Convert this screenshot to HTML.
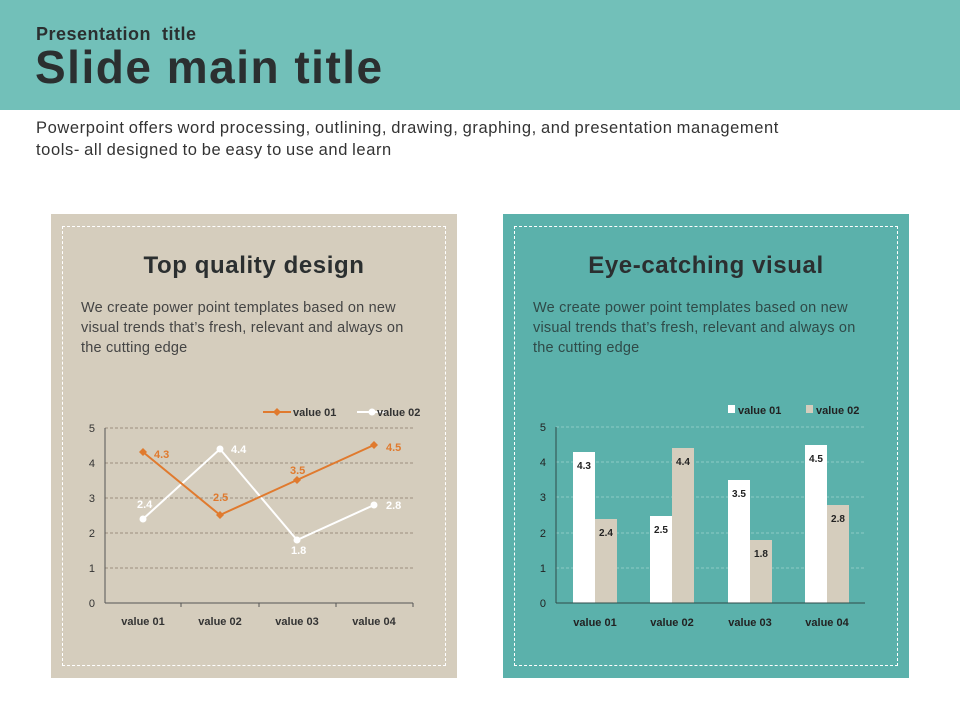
<!DOCTYPE html>
<html><head><style>
body{margin:0;width:960px;height:720px;background:#fff;position:relative;overflow:hidden;font-family:"Liberation Sans",sans-serif;}
.hdr{position:absolute;left:0;top:0;width:960px;height:110px;background:#72c0b9;}
.t1{position:absolute;left:36px;top:24px;font-size:18px;font-weight:bold;color:#2b2f30;letter-spacing:0.5px;}
.t2{position:absolute;left:35px;top:40px;font-size:46px;font-weight:bold;color:#2b2f30;letter-spacing:1.5px;}
.desc{position:absolute;left:36px;top:117px;font-size:16.5px;line-height:22px;color:#333;letter-spacing:0.6px;word-spacing:-1px;}
.panel{position:absolute;top:214px;width:406px;height:464px;}
.dash{position:absolute;left:11px;top:12px;right:11px;bottom:12px;border:1px dashed #fff;}
.ph{position:absolute;left:0;width:100%;top:38px;text-align:center;font-size:24px;font-weight:bold;color:#2b2f30;letter-spacing:0.6px;}
.pt{position:absolute;left:30px;top:84px;font-size:14.5px;line-height:20px;color:#444;width:345px;letter-spacing:0.2px;}
svg{position:absolute;left:0;top:0}
</style></head><body>
<div class="hdr"></div>
<div class="t1">Presentation &nbsp;title</div>
<div class="t2">Slide main title</div>
<div class="desc">Powerpoint offers word processing, outlining, drawing, graphing, and presentation management<br>tools- all designed to be easy to use and learn</div>
<div class="panel" style="left:51px;background:#d5cdbd"><div class="dash"></div><div class="ph">Top quality design</div><div class="pt">We create power point templates based on new<br>visual trends that’s fresh, relevant and always on<br>the cutting edge</div></div>
<div class="panel" style="left:503px;background:#5bb1ab"><div class="dash"></div><div class="ph">Eye-catching visual</div><div class="pt" style="color:#2f4a48">We create power point templates based on new<br>visual trends that’s fresh, relevant and always on<br>the cutting edge</div></div>
<svg width="960" height="720" font-family="Liberation Sans,sans-serif" font-size="11">
<g stroke="#8a7a6a" stroke-dasharray="3,2" stroke-width="0.8">
<line x1="105" x2="413" y1="428" y2="428"/><line x1="105" x2="413" y1="463" y2="463"/><line x1="105" x2="413" y1="498" y2="498"/><line x1="105" x2="413" y1="533" y2="533"/><line x1="105" x2="413" y1="568" y2="568"/></g>
<g stroke="#555" stroke-width="1"><line x1="105" x2="105" y1="428" y2="603"/><line x1="105" x2="413" y1="603" y2="603"/>
<line x1="181" x2="181" y1="603" y2="607"/><line x1="259" x2="259" y1="603" y2="607"/><line x1="336" x2="336" y1="603" y2="607"/><line x1="413" x2="413" y1="603" y2="607"/></g>
<g fill="#333" text-anchor="end"><text x="95" y="432">5</text><text x="95" y="467">4</text><text x="95" y="502">3</text><text x="95" y="537">2</text><text x="95" y="572">1</text><text x="95" y="607">0</text></g>
<g fill="#333" font-weight="bold" text-anchor="middle"><text x="143" y="625">value 01</text><text x="220" y="625">value 02</text><text x="297" y="625">value 03</text><text x="374" y="625">value 04</text></g>
<polyline points="143,519 220,449 297,540 374,505" fill="none" stroke="#fff" stroke-width="2"/>
<polyline points="143,452 220,515 297,480 374,445" fill="none" stroke="#e07a2e" stroke-width="2"/>
<g fill="#fff"><circle cx="143" cy="519" r="3.5"/><circle cx="220" cy="449" r="3.5"/><circle cx="297" cy="540" r="3.5"/><circle cx="374" cy="505" r="3.5"/></g>
<g fill="#e07a2e"><path d="M143 448l4 4-4 4-4-4z"/><path d="M220 511l4 4-4 4-4-4z"/><path d="M297 476l4 4-4 4-4-4z"/><path d="M374 441l4 4-4 4-4-4z"/></g>
<g font-weight="bold" fill="#e07a2e"><text x="154" y="458">4.3</text><text x="213" y="501">2.5</text><text x="290" y="474">3.5</text><text x="386" y="451">4.5</text></g>
<g font-weight="bold" fill="#fff"><text x="137" y="508">2.4</text><text x="231" y="453">4.4</text><text x="291" y="554">1.8</text><text x="386" y="509">2.8</text></g>
<line x1="263" x2="291" y1="412" y2="412" stroke="#e07a2e" stroke-width="2"/><path d="M277 408l4 4-4 4-4-4z" fill="#e07a2e"/>
<text x="293" y="416" fill="#333" font-weight="bold">value 01</text>
<line x1="357" x2="386" y1="412" y2="412" stroke="#fff" stroke-width="2"/><circle cx="372" cy="412" r="3.5" fill="#fff"/>
<text x="377" y="416" fill="#333" font-weight="bold">value 02</text>

<g stroke="#9fd4cf" stroke-dasharray="3,2" stroke-width="0.8">
<line x1="556" x2="865" y1="427" y2="427"/><line x1="556" x2="865" y1="462" y2="462"/><line x1="556" x2="865" y1="497" y2="497"/><line x1="556" x2="865" y1="533" y2="533"/><line x1="556" x2="865" y1="568" y2="568"/></g>
<g fill="#fff"><rect x="573" y="452" width="22" height="151"/><rect x="650" y="516" width="22" height="87"/><rect x="728" y="480" width="22" height="123"/><rect x="805" y="445" width="22" height="158"/></g>
<g fill="#d5cdbd"><rect x="595" y="519" width="22" height="84"/><rect x="672" y="448" width="22" height="155"/><rect x="750" y="540" width="22" height="63"/><rect x="827" y="505" width="22" height="98"/></g>
<g stroke="#2f4a48" stroke-width="1"><line x1="556" x2="556" y1="427" y2="603"/><line x1="556" x2="865" y1="603" y2="603"/></g>
<g fill="#222" text-anchor="end"><text x="546" y="431">5</text><text x="546" y="466">4</text><text x="546" y="501">3</text><text x="546" y="537">2</text><text x="546" y="572">1</text><text x="546" y="607">0</text></g>
<g fill="#222" font-weight="bold" text-anchor="middle"><text x="595" y="626">value 01</text><text x="672" y="626">value 02</text><text x="750" y="626">value 03</text><text x="827" y="626">value 04</text></g>
<g fill="#222" font-size="10" font-weight="bold" text-anchor="middle"><text x="584" y="469">4.3</text><text x="606" y="536">2.4</text><text x="661" y="533">2.5</text><text x="683" y="465">4.4</text><text x="739" y="497">3.5</text><text x="761" y="557">1.8</text><text x="816" y="462">4.5</text><text x="838" y="522">2.8</text></g>
<rect x="728" y="405" width="7" height="8" fill="#fff"/><text x="738" y="414" fill="#222" font-weight="bold">value 01</text>
<rect x="806" y="405" width="7" height="8" fill="#d5cdbd"/><text x="816" y="414" fill="#222" font-weight="bold">value 02</text>
</svg>
</body></html>
